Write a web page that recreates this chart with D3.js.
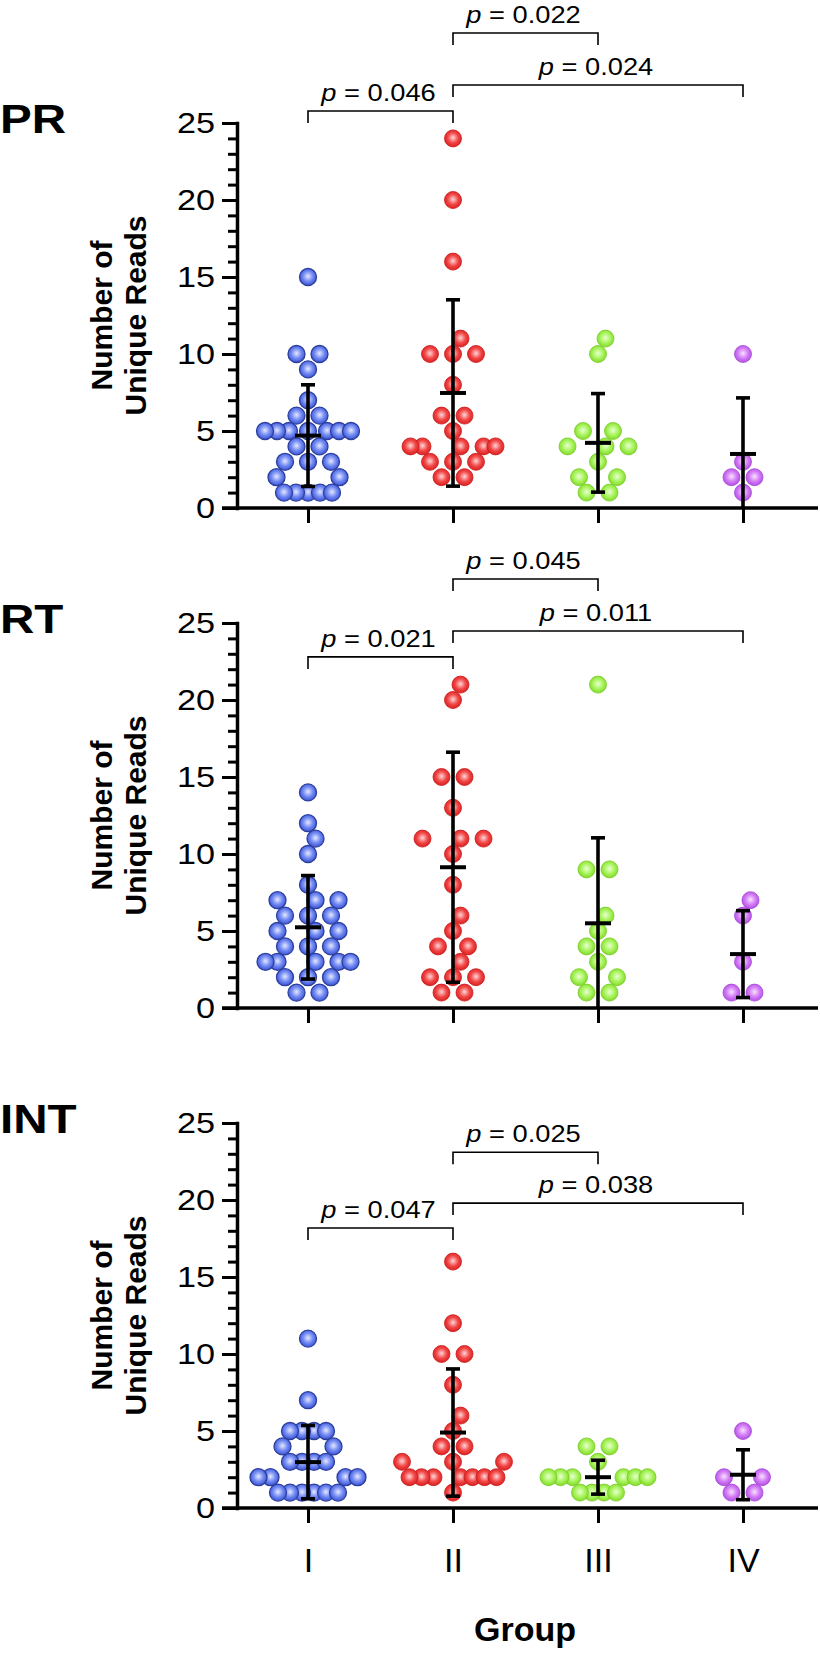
<!DOCTYPE html>
<html>
<head>
<meta charset="utf-8">
<script src="https://cdn.jsdelivr.net/npm/d3@7"></script>
<style>
  html, body { margin: 0; padding: 0; background: #fff; }
  svg { display: block; }
  text { font-family: "Liberation Sans", Arial, Helvetica, sans-serif; fill: #000; }
</style>
</head>
<body>
<div id="chart"></div>
<script>
// ---------------- DATA ----------------
const groups = ["I", "II", "III", "IV"];
const panelNames = ["PR", "RT", "INT"];

// Individual values (number of unique reads) per group
const prValues = [
  [15, 10, 10, 9, 7, 6, 6, 5, 5, 5, 5, 5, 5, 5, 4, 4, 3, 3, 3, 2, 2, 1, 1, 1, 1, 1],
  [24, 20, 16, 11, 10, 10, 10, 8, 6, 6, 5, 4, 4, 4, 4, 4, 3, 3, 3, 2, 2],
  [11, 10, 5, 5, 4, 4, 4, 3, 2, 2, 1, 1],
  [10, 3, 2, 2, 1]
];
const rtValues = [
  [14, 12, 11, 10, 8, 7, 7, 7, 6, 6, 6, 5, 5, 5, 4, 4, 4, 3, 3, 3, 3, 3, 2, 2, 2, 1, 1],
  [21, 20, 15, 15, 13, 11, 11, 11, 10, 8, 6, 5, 4, 4, 3, 2, 2, 2, 1, 1],
  [21, 9, 9, 6, 5, 4, 4, 3, 2, 2, 1, 1],
  [7, 6, 3, 1, 1]
];
const intValues = [
  [11, 7, 5, 5, 5, 5, 4, 4, 3, 3, 3, 3, 2, 2, 2, 2, 1, 1, 1, 1, 1, 1],
  [16, 12, 10, 10, 8, 6, 5, 4, 4, 3, 3, 3, 2, 2, 2, 2, 2, 2, 2, 1],
  [4, 4, 3, 2, 2, 2, 2, 2, 2, 1, 1, 1, 1],
  [5, 2, 2, 1, 1]
];

// Mean and SD as drawn in the figure
const prMean = [4.7, 7.47, 4.23, 3.51];
const prSD   = [3.3, 6.05, 3.2, 3.64];
const rtMean = [5.24, 9.14, 5.5, 3.5];
const rtSD   = [3.36, 7.47, 5.55, 2.82];
const intMean = [2.98, 4.9, 2.0, 2.16];
const intSD   = [2.38, 4.13, 1.1, 1.62];

// Pairwise comparisons
const comparisons = [["I", "II"], ["II", "III"], ["II", "IV"]];
const prP  = ["0.046", "0.022", "0.024"];
const rtP  = ["0.021", "0.045", "0.011"];
const intP = ["0.047", "0.025", "0.038"];

const yTicks = [0, 5, 10, 15, 20, 25];
const yMinorTicks = d3.range(0, 26);

// ---------------- LAYOUT ----------------
const panels = [
  { name: panelNames[0], values: prValues, mean: prMean, sd: prSD, p: prP, levels: [25.78, 30.84, 27.47] },
  { name: panelNames[1], values: rtValues, mean: rtMean, sd: rtSD, p: rtP, levels: [22.8, 27.86, 24.48] },
  { name: panelNames[2], values: intValues, mean: intMean, sd: intSD, p: intP, levels: [18.18, 23.1, 19.8] }
];

const W = 820, H = 1656;
const AXIS_X = 237;
const PANEL_STEP = 500;
const SX = 1.16; // horizontal stretch of the figure's lettering
const colors = [
  { hi: "#e4e8ff", mid: "#7088f2", edge: "#3a52d2", stroke: "#2c3f9e" },
  { hi: "#ffd6d6", mid: "#f24848", edge: "#d81d1d", stroke: "#cc1a1a" },
  { hi: "#eaffd4", mid: "#a8f45c", edge: "#80d82a", stroke: "#78cc26" },
  { hi: "#f8e2ff", mid: "#d47cf6", edge: "#b04ee2", stroke: "#a648d8" }
];

const svg = d3.select("#chart").append("svg")
  .attr("width", W).attr("height", H).attr("viewBox", `0 0 ${W} ${H}`);

const defs = svg.append("defs");
colors.forEach((c, i) => {
  const g = defs.append("radialGradient").attr("id", "ball" + i)
    .attr("cx", "50%").attr("cy", "46%").attr("r", "55%");
  g.append("stop").attr("offset", "0%").attr("stop-color", c.hi);
  g.append("stop").attr("offset", "55%").attr("stop-color", c.mid);
  g.append("stop").attr("offset", "100%").attr("stop-color", c.edge);
});

const x = d3.scalePoint().domain(groups).range([308, 743]);

const R = 8.5;
const D_ROW = 17;   // min distance to points in other rows

// symmetric row-wise beeswarm
function swarm(vals, y) {
  const rows = d3.groups(vals, v => v).sort((a, b) => a[0] - b[0]);
  const placed = [];
  rows.forEach(([v, arr]) => {
    const n = arr.length;
    const py = y(v);
    const sIn = n <= 3 ? 23 : 12;
    const rowX = [];
    const okOther = cx => placed.every(q => {
      const dx = cx - q.dx, dy = py - q.py;
      return Math.sqrt(dx * dx + dy * dy) >= D_ROW - 1e-6;
    });
    const okIn = cx => rowX.every(d => Math.abs(cx - d) >= sIn - 1e-6);
    const ok = cx => okOther(cx) && okIn(cx);
    let remaining = n;
    if (n % 2 === 1) {
      for (let k = 0; k < 800; k++) {
        const c = k === 0 ? [0] : [k * 0.5, -k * 0.5];
        const hit = c.find(ok);
        if (hit !== undefined) { rowX.push(hit); break; }
      }
      remaining--;
    }
    while (remaining >= 2) {
      for (let k = 1; k < 800; k++) {
        const cx = k * 0.5;
        if (ok(cx) && ok(-cx) && 2 * cx >= sIn - 1e-6) { rowX.push(cx, -cx); break; }
      }
      remaining -= 2;
    }
    rowX.forEach(dx => placed.push({ v, py, dx }));
  });
  return placed;
}

const fontMain = '"Liberation Sans", Arial, Helvetica, sans-serif';

panels.forEach((panel, pi) => {
  const off = pi * PANEL_STEP;
  const y = d3.scaleLinear().domain([0, 25]).range([508 + off, 123 + off]);
  const g = svg.append("g");

  // panel label
  g.append("text").attr("transform", `translate(0,${133 + off}) scale(${SX},1)`)
    .attr("font-size", 41).attr("font-weight", "bold").text(panel.name);

  // y title
  const yc = (y(0) + y(25)) / 2;
  const yt = g.append("text").attr("transform", `translate(0,${yc}) rotate(-90)`)
    .attr("text-anchor", "middle").attr("font-size", 30).attr("font-weight", "bold");
  yt.append("tspan").attr("x", 0).attr("y", 112).text("Number of");
  yt.append("tspan").attr("x", 0).attr("y", 146).text("Unique Reads");

  // minor ticks
  const minor = g.append("g").attr("transform", `translate(${AXIS_X},0)`)
    .call(d3.axisLeft(y).tickValues(yMinorTicks).tickSize(9).tickSizeOuter(0).tickFormat(""));
  minor.select(".domain").remove();
  minor.selectAll(".tick line").attr("stroke", "#000").attr("stroke-width", 3);

  // major ticks + labels
  const major = g.append("g").attr("transform", `translate(${AXIS_X},0)`)
    .call(d3.axisLeft(y).tickValues(yTicks).tickSize(15).tickSizeOuter(0).tickPadding(7));
  major.select(".domain").attr("stroke", "#000").attr("stroke-width", 3.5)
    .attr("stroke-linecap", "square");
  major.selectAll(".tick line").attr("stroke", "#000").attr("stroke-width", 3);
  major.selectAll(".tick text").attr("font-size", 29.5).attr("font-family", fontMain)
    .attr("fill", "#000").attr("x", -22 / SX).attr("transform", `scale(${SX},1)`);

  // x axis line
  g.append("line").attr("x1", 222).attr("x2", 818).attr("y1", y(0)).attr("y2", y(0))
    .attr("stroke", "#000").attr("stroke-width", 3.5);

  // x ticks
  const xa = g.append("g").attr("transform", `translate(0,${y(0)})`)
    .call(d3.axisBottom(x).tickSize(15).tickSizeOuter(0).tickPadding(18));
  xa.select(".domain").remove();
  xa.selectAll(".tick line").attr("stroke", "#000").attr("stroke-width", 3);
  if (pi === panels.length - 1) {
    xa.selectAll(".tick text").attr("font-size", 34).attr("font-family", fontMain)
      .attr("fill", "#000").attr("dy", 0).attr("y", 64);
  } else {
    xa.selectAll(".tick text").remove();
  }

  // points
  panel.values.forEach((vals, gi) => {
    const pts = swarm(vals, y);
    g.append("g").selectAll("circle").data(pts).join("circle")
      .attr("cx", d => x(groups[gi]) + d.dx)
      .attr("cy", d => d.py)
      .attr("r", R)
      .attr("fill", `url(#ball${gi})`)
      .attr("stroke", colors[gi].stroke)
      .attr("stroke-width", gi === 0 ? 1.3 : 0.8);
  });

  // mean ± SD
  const eb = g.append("g").attr("stroke", "#000");
  groups.forEach((grp, gi) => {
    const cx = x(grp);
    const m = panel.mean[gi], s = panel.sd[gi];
    const lo = Math.max(0, m - s), hi = m + s;
    eb.append("line").attr("x1", cx).attr("x2", cx).attr("y1", y(lo)).attr("y2", y(hi))
      .attr("stroke-width", 3.6);
    eb.append("line").attr("x1", cx - 7).attr("x2", cx + 7).attr("y1", y(hi)).attr("y2", y(hi))
      .attr("stroke-width", 3.6);
    if (lo > 0) {
      eb.append("line").attr("x1", cx - 7).attr("x2", cx + 7).attr("y1", y(lo)).attr("y2", y(lo))
        .attr("stroke-width", 3.6);
    }
    eb.append("line").attr("x1", cx - 13).attr("x2", cx + 13).attr("y1", y(m)).attr("y2", y(m))
      .attr("stroke-width", 4);
  });

  // significance brackets
  comparisons.forEach((cmp, ci) => {
    const x1 = x(cmp[0]), x2 = x(cmp[1]);
    const by = y(panel.levels[ci]);
    g.append("path")
      .attr("d", `M${x1},${by + 12}V${by}H${x2}V${by + 12}`)
      .attr("fill", "none").attr("stroke", "#000").attr("stroke-width", 1.6);
    const t = g.append("text")
      .attr("transform", `translate(${(x1 + x2) / 2 - 2},${by - 10}) scale(${SX},1)`)
      .attr("text-anchor", "middle").attr("font-size", 23.5);
    t.append("tspan").attr("font-style", "italic").text("p");
    t.append("tspan").text(" = " + panel.p[ci]);
  });
});

// x title
svg.append("text").attr("x", 525).attr("y", 1641).attr("text-anchor", "middle")
  .attr("font-size", 34).attr("font-weight", "bold").text("Group");
</script>
</body>
</html>
